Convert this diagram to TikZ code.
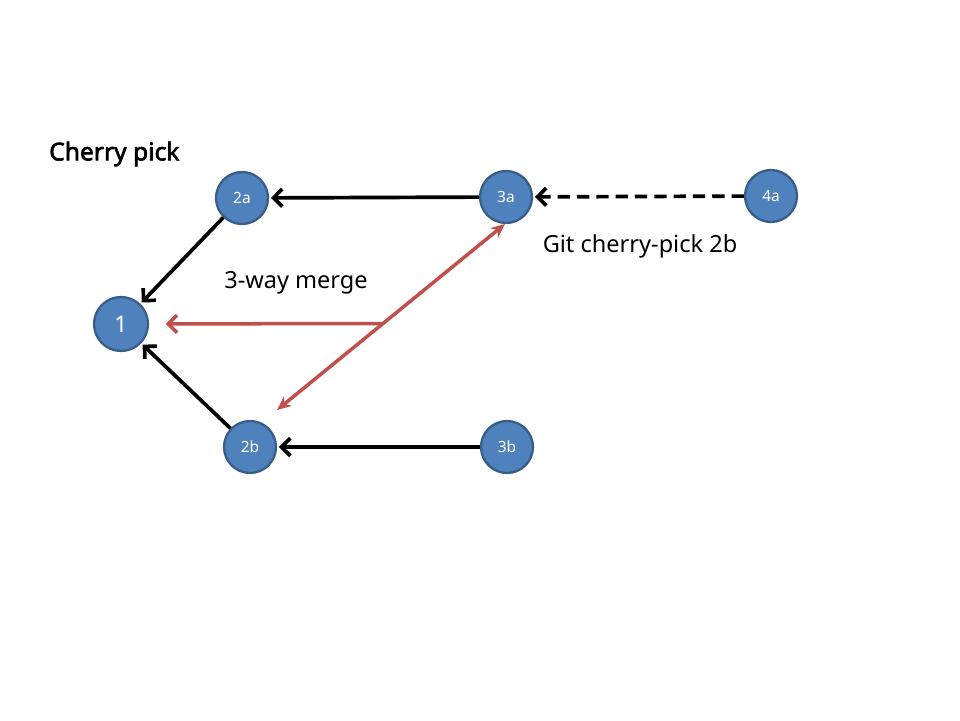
\documentclass[tikz,border=0pt]{standalone}
\usepackage{fontspec}
\setmainfont{Noto Sans}[BoldFont={Noto Sans}, BoldFeatures={FakeBold=2.5}]
\usepackage{tikz}
\usetikzlibrary{arrows.meta, positioning, calc}

\definecolor{commitfill}{HTML}{4F81BD}
\definecolor{commitdraw}{HTML}{385D8A}
\definecolor{mergered}{HTML}{C0504D}

\begin{document}
\begin{tikzpicture}[
    x=0.02cm, y=-0.02cm,
    commit/.style={
        circle,
        draw=commitdraw,
        fill=commitfill,
        line width=1.3pt,
        minimum size=1.04cm,
        inner sep=0pt,
        text=white,
        font=\fontsize{8.8}{10}\selectfont
    },
    parent/.style={-{Straight Barb[length=5pt,width=10pt]}, line width=2.1pt, shorten >=1pt},
    merge/.style={line width=2pt, draw=mergered}
 % commit graph styles
]
    \useasboundingbox (0,0) rectangle (960,720);

    \node[commit, minimum size=1.08cm, font=\fontsize{13}{15}\selectfont] (n1) at (121,324) {1};
    \node[commit] (n2a) at (242,198) {2a};
    \node[commit] (n3a) at (506,197) {3a};
    \node[commit] (n4a) at (771,196) {4a};
    \node[commit] (n2b) at (250,447) {2b};
    \node[commit] (n3b) at (507,447) {3b};

    \node[font=\bfseries\fontsize{14}{16}\selectfont, anchor=west] (title) at (43,154) {Cherry pick};
    \node[font=\fontsize{13.4}{15}\selectfont] (mergelabel) at (296,283) {3-way merge};
    \node[font=\fontsize{13.4}{15}\selectfont] (picklabel) at (640,246) {Git cherry-pick 2b};

    % parent links
    \draw[parent] (n2a) -- (n1);
    \draw[parent] (n2b) -- (n1);
    \draw[parent] (n3a) -- (n2a);
    \draw[parent] (n3b) -- (n2b);
    \draw[parent, dashed, dash pattern=on 7pt off 4pt] (n4a) -- (n3a);

    % merge base arrows
    \coordinate (mergelow) at (277,410);
    \coordinate (mergehigh) at (505,224);
    \coordinate (mergemid) at ($(mergelow)!0.465!(mergehigh)$);
    \draw[merge, {Stealth[length=8pt,width=7pt]}-{Stealth[length=8pt,width=7pt]}] (mergelow) -- (mergehigh);
    \draw[merge, -{Straight Barb[length=5pt,width=10pt]}, shorten >=9.5pt] (mergemid) -- (n1);

\end{tikzpicture}
\end{document}
